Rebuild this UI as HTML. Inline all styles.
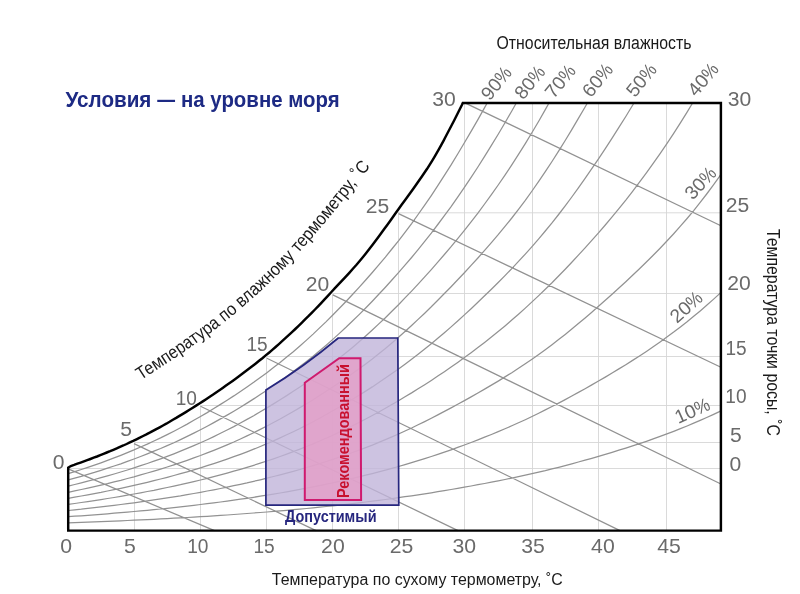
<!DOCTYPE html><html><head><meta charset="utf-8"><title>chart</title><style>html,body{margin:0;padding:0;background:#fff}svg{display:block}</style></head><body><svg width="800" height="594" viewBox="0 0 800 594">
<rect width="800" height="594" fill="#fff"/>
<path d="M134.5,442.6 V530.6 M200.5,405.1 V530.6 M266.5,356.9 V530.6 M332.5,293.3 V530.6 M398.5,211.9 V530.6 M464.5,103.0 V530.6 M532.5,103.0 V530.6 M598.5,103.0 V530.6 M666.5,103.0 V530.6 M68.2,468.5 H720.9 M134.0,442.5 H720.9 M200.5,405.5 H720.9 M266.9,356.5 H720.9 M332.8,293.5 H720.9 M398.5,212.8 H720.9" fill="none" stroke="#d6d6d6" stroke-width="0.9"/>
<path d="M68.2,522.8 L74.7,522.6 L81.3,522.3 L87.8,522.1 L94.4,521.9 L101.0,521.6 L107.5,521.3 L114.1,521.1 L120.8,520.8 L127.4,520.5 L134.0,520.2 L140.6,519.9 L147.3,519.6 L153.9,519.3 L160.6,518.9 L167.2,518.6 L173.9,518.2 L180.5,517.9 L187.2,517.5 L193.8,517.1 L200.5,516.7 L207.2,516.3 L213.8,515.9 L220.5,515.4 L227.1,515.0 L233.8,514.5 L240.4,514.0 L247.0,513.5 L253.7,513.0 L260.3,512.5 L266.9,512.0 L273.5,511.4 L280.1,510.9 L286.7,510.3 L293.3,509.7 L299.9,509.1 L306.5,508.5 L313.1,507.8 L319.6,507.2 L326.2,506.5 L332.8,505.8 L339.4,505.1 L346.0,504.3 L352.5,503.6 L359.1,502.8 L365.7,502.0 L372.3,501.2 L378.8,500.3 L385.4,499.5 L391.9,498.6 L398.5,497.7 L405.0,496.7 L411.6,495.8 L418.1,494.8 L424.7,493.8 L431.3,492.8 L437.8,491.7 L444.4,490.6 L451.1,489.5 L457.7,488.4 L464.4,487.2 L471.1,486.0 L477.9,484.7 L484.6,483.5 L491.4,482.2 L498.2,480.9 L505.0,479.5 L511.8,478.1 L518.5,476.7 L525.3,475.2 L532.0,473.7 L538.7,472.1 L545.3,470.6 L552.0,468.9 L558.6,467.3 L565.2,465.6 L571.8,463.8 L578.4,462.0 L585.1,460.2 L591.8,458.3 L598.5,456.3 L605.3,454.3 L612.1,452.3 L618.9,450.2 L625.8,448.1 L632.6,445.9 L639.5,443.6 L646.4,441.3 L653.2,438.9 L660.1,436.4 L666.9,433.9 L673.7,431.3 L680.4,428.7 L687.1,426.0 L693.7,423.2 L700.2,420.4 L706.7,417.5 L713.1,414.6 L719.4,411.6 L720.9,410.8 M68.2,516.7 L74.7,516.2 L81.3,515.8 L87.8,515.3 L94.4,514.8 L101.0,514.3 L107.5,513.8 L114.1,513.2 L120.8,512.7 L127.4,512.1 L134.0,511.5 L140.6,510.9 L147.3,510.3 L153.9,509.6 L160.6,509.0 L167.2,508.3 L173.9,507.6 L180.5,506.8 L187.2,506.1 L193.8,505.3 L200.5,504.5 L207.2,503.7 L213.8,502.9 L220.5,502.0 L227.1,501.1 L233.8,500.2 L240.4,499.2 L247.0,498.3 L253.7,497.3 L260.3,496.2 L266.9,495.2 L273.5,494.1 L280.1,493.0 L286.7,491.8 L293.3,490.6 L299.9,489.4 L306.5,488.2 L313.1,486.9 L319.6,485.6 L326.2,484.2 L332.8,482.8 L339.4,481.4 L346.0,479.9 L352.5,478.4 L359.1,476.8 L365.7,475.2 L372.3,473.6 L378.8,471.9 L385.4,470.1 L391.9,468.3 L398.5,466.5 L405.0,464.6 L411.6,462.7 L418.1,460.7 L424.7,458.6 L431.3,456.5 L437.8,454.3 L444.4,452.1 L451.1,449.8 L457.7,447.4 L464.4,445.0 L471.1,442.5 L477.9,439.9 L484.6,437.2 L491.4,434.5 L498.2,431.7 L505.0,428.8 L511.8,425.8 L518.5,422.8 L525.3,419.7 L532.0,416.5 L538.7,413.2 L545.3,409.9 L552.0,406.5 L558.6,403.1 L565.2,399.6 L571.8,396.0 L578.4,392.4 L585.1,388.7 L591.8,384.9 L598.5,381.0 L605.3,377.1 L612.1,373.0 L618.9,368.9 L625.8,364.7 L632.6,360.4 L639.5,356.0 L646.4,351.4 L653.2,346.8 L660.1,342.0 L666.9,337.1 L673.7,332.1 L680.4,326.9 L687.1,321.7 L693.7,316.3 L700.2,310.9 L706.7,305.3 L713.1,299.6 L719.4,293.9 L720.9,292.4 M68.2,510.5 L74.7,509.8 L81.3,509.2 L87.8,508.4 L94.4,507.7 L101.0,506.9 L107.5,506.2 L114.1,505.4 L120.8,504.5 L127.4,503.7 L134.0,502.8 L140.6,501.9 L147.3,500.9 L153.9,499.9 L160.6,498.9 L167.2,497.9 L173.9,496.8 L180.5,495.8 L187.2,494.6 L193.8,493.5 L200.5,492.3 L207.2,491.0 L213.8,489.8 L220.5,488.5 L227.1,487.1 L233.8,485.7 L240.4,484.3 L247.0,482.9 L253.7,481.3 L260.3,479.8 L266.9,478.2 L273.5,476.5 L280.1,474.8 L286.7,473.1 L293.3,471.3 L299.9,469.5 L306.5,467.5 L313.1,465.6 L319.6,463.6 L326.2,461.5 L332.8,459.4 L339.4,457.1 L346.0,454.9 L352.5,452.5 L359.1,450.1 L365.7,447.6 L372.3,445.1 L378.8,442.4 L385.4,439.7 L391.9,436.9 L398.5,434.0 L405.0,431.0 L411.6,428.0 L418.1,424.8 L424.7,421.6 L431.3,418.3 L437.8,414.9 L444.4,411.4 L451.1,407.9 L457.7,404.3 L464.4,400.6 L471.1,396.9 L477.9,393.0 L484.6,389.1 L491.4,385.1 L498.2,381.1 L505.0,376.9 L511.8,372.7 L518.5,368.3 L525.3,363.8 L532.0,359.2 L538.7,354.5 L545.3,349.7 L552.0,344.7 L558.6,339.6 L565.2,334.4 L571.8,329.0 L578.4,323.5 L585.1,317.9 L591.8,312.2 L598.5,306.3 L605.3,300.3 L612.1,294.2 L618.9,288.0 L625.8,281.7 L632.6,275.3 L639.5,268.7 L646.4,262.0 L653.2,255.2 L660.1,248.2 L666.9,241.0 L673.7,233.7 L680.4,226.2 L687.1,218.5 L693.7,210.6 L700.2,202.4 L706.7,194.0 L713.1,185.4 L719.4,176.6 L720.9,174.3 M68.2,504.4 L74.7,503.5 L81.3,502.5 L87.8,501.6 L94.4,500.6 L101.0,499.6 L107.5,498.5 L114.1,497.5 L120.8,496.4 L127.4,495.2 L134.0,494.0 L140.6,492.8 L147.3,491.5 L153.9,490.3 L160.6,488.9 L167.2,487.5 L173.9,486.1 L180.5,484.7 L187.2,483.1 L193.8,481.6 L200.5,480.0 L207.2,478.3 L213.8,476.6 L220.5,474.9 L227.1,473.1 L233.8,471.2 L240.4,469.3 L247.0,467.3 L253.7,465.3 L260.3,463.2 L266.9,461.0 L273.5,458.8 L280.1,456.5 L286.7,454.1 L293.3,451.6 L299.9,449.1 L306.5,446.5 L313.1,443.8 L319.6,441.0 L326.2,438.2 L332.8,435.2 L339.4,432.1 L346.0,429.0 L352.5,425.8 L359.1,422.4 L365.7,419.0 L372.3,415.5 L378.8,412.0 L385.4,408.3 L391.9,404.5 L398.5,400.7 L405.0,396.8 L411.6,392.9 L418.1,388.8 L424.7,384.7 L431.3,380.4 L437.8,376.1 L444.4,371.7 L451.1,367.1 L457.7,362.4 L464.4,357.6 L471.1,352.7 L477.9,347.6 L484.6,342.4 L491.4,337.0 L498.2,331.5 L505.0,325.9 L511.8,320.1 L518.5,314.2 L525.3,308.1 L532.0,301.9 L538.7,295.6 L545.3,289.2 L552.0,282.7 L558.6,276.0 L565.2,269.2 L571.8,262.2 L578.4,255.1 L585.1,247.9 L591.8,240.4 L598.5,232.8 L605.3,225.0 L612.1,216.9 L618.9,208.6 L625.8,200.1 L632.6,191.3 L639.5,182.2 L646.4,172.9 L653.2,163.4 L660.1,153.6 L666.9,143.6 L673.7,133.3 L680.4,122.8 L687.1,112.1 L692.6,103.0 M68.2,498.3 L74.7,497.2 L81.3,496.0 L87.8,494.8 L94.4,493.6 L101.0,492.4 L107.5,491.0 L114.1,489.7 L120.8,488.3 L127.4,486.9 L134.0,485.4 L140.6,483.9 L147.3,482.3 L153.9,480.7 L160.6,479.0 L167.2,477.3 L173.9,475.5 L180.5,473.7 L187.2,471.8 L193.8,469.8 L200.5,467.8 L207.2,465.7 L213.8,463.6 L220.5,461.4 L227.1,459.1 L233.8,456.7 L240.4,454.3 L247.0,451.8 L253.7,449.2 L260.3,446.5 L266.9,443.7 L273.5,440.9 L280.1,437.9 L286.7,434.8 L293.3,431.7 L299.9,428.5 L306.5,425.1 L313.1,421.7 L319.6,418.2 L326.2,414.5 L332.8,410.8 L339.4,407.0 L346.0,403.2 L352.5,399.2 L359.1,395.2 L365.7,391.1 L372.3,386.9 L378.8,382.5 L385.4,378.1 L391.9,373.6 L398.5,369.0 L405.0,364.2 L411.6,359.3 L418.1,354.3 L424.7,349.1 L431.3,343.8 L437.8,338.3 L444.4,332.7 L451.1,326.9 L457.7,321.0 L464.4,314.9 L471.1,308.7 L477.9,302.3 L484.6,295.8 L491.4,289.2 L498.2,282.5 L505.0,275.6 L511.8,268.6 L518.5,261.4 L525.3,254.1 L532.0,246.6 L538.7,238.9 L545.3,231.0 L552.0,222.9 L558.6,214.5 L565.2,205.9 L571.8,197.0 L578.4,187.8 L585.1,178.4 L591.8,168.7 L598.5,158.8 L605.3,148.6 L612.1,138.1 L618.9,127.4 L625.8,116.5 L632.6,105.3 L634.0,103.0 M68.2,492.3 L74.7,490.9 L81.3,489.5 L87.8,488.1 L94.4,486.6 L101.0,485.1 L107.5,483.6 L114.1,481.9 L120.8,480.3 L127.4,478.5 L134.0,476.8 L140.6,474.9 L147.3,473.0 L153.9,471.1 L160.6,469.1 L167.2,467.0 L173.9,464.8 L180.5,462.6 L187.2,460.3 L193.8,457.9 L200.5,455.5 L207.2,452.9 L213.8,450.3 L220.5,447.6 L227.1,444.8 L233.8,442.0 L240.4,439.0 L247.0,435.9 L253.7,432.7 L260.3,429.4 L266.9,426.0 L273.5,422.5 L280.1,419.0 L286.7,415.3 L293.3,411.5 L299.9,407.6 L306.5,403.7 L313.1,399.7 L319.6,395.5 L326.2,391.3 L332.8,387.0 L339.4,382.6 L346.0,378.1 L352.5,373.5 L359.1,368.8 L365.7,363.9 L372.3,358.9 L378.8,353.7 L385.4,348.4 L391.9,342.9 L398.5,337.3 L405.0,331.5 L411.6,325.5 L418.1,319.4 L424.7,313.2 L431.3,306.8 L437.8,300.2 L444.4,293.5 L451.1,286.7 L457.7,279.8 L464.4,272.7 L471.1,265.4 L477.9,258.0 L484.6,250.4 L491.4,242.6 L498.2,234.7 L505.0,226.4 L511.8,218.0 L518.5,209.3 L525.3,200.3 L532.0,191.0 L538.7,181.4 L545.3,171.6 L552.0,161.5 L558.6,151.1 L565.2,140.5 L571.8,129.6 L578.4,118.4 L585.1,107.0 L587.4,103.0 M68.2,486.1 L74.7,484.5 L81.3,482.9 L87.8,481.2 L94.4,479.5 L101.0,477.7 L107.5,475.9 L114.1,474.0 L120.8,472.0 L127.4,470.0 L134.0,467.9 L140.6,465.7 L147.3,463.5 L153.9,461.2 L160.6,458.8 L167.2,456.3 L173.9,453.8 L180.5,451.2 L187.2,448.4 L193.8,445.6 L200.5,442.7 L207.2,439.7 L213.8,436.6 L220.5,433.3 L227.1,430.0 L233.8,426.6 L240.4,423.0 L247.0,419.4 L253.7,415.7 L260.3,411.8 L266.9,407.9 L273.5,403.9 L280.1,399.8 L286.7,395.6 L293.3,391.3 L299.9,386.9 L306.5,382.4 L313.1,377.8 L319.6,373.1 L326.2,368.2 L332.8,363.3 L339.4,358.1 L346.0,352.8 L352.5,347.4 L359.1,341.8 L365.7,336.0 L372.3,330.0 L378.8,323.9 L385.4,317.7 L391.9,311.2 L398.5,304.7 L405.0,297.9 L411.6,291.1 L418.1,284.1 L424.7,276.9 L431.3,269.6 L437.8,262.2 L444.4,254.5 L451.1,246.7 L457.7,238.6 L464.4,230.4 L471.1,221.9 L477.9,213.1 L484.6,204.0 L491.4,194.7 L498.2,185.0 L505.0,175.1 L511.8,164.9 L518.5,154.4 L525.3,143.6 L532.0,132.5 L538.7,121.2 L545.3,109.6 L549.0,103.0 M68.2,479.9 L74.7,478.1 L81.3,476.3 L87.8,474.3 L94.4,472.4 L101.0,470.3 L107.5,468.2 L114.1,466.0 L120.8,463.8 L127.4,461.4 L134.0,459.0 L140.6,456.5 L147.3,453.9 L153.9,451.2 L160.6,448.5 L167.2,445.6 L173.9,442.7 L180.5,439.6 L187.2,436.4 L193.8,433.1 L200.5,429.7 L207.2,426.2 L213.8,422.6 L220.5,418.9 L227.1,415.1 L233.8,411.2 L240.4,407.2 L247.0,403.1 L253.7,398.9 L260.3,394.6 L266.9,390.2 L273.5,385.7 L280.1,381.1 L286.7,376.4 L293.3,371.6 L299.9,366.6 L306.5,361.5 L313.1,356.2 L319.6,350.8 L326.2,345.2 L332.8,339.4 L339.4,333.4 L346.0,327.3 L352.5,321.0 L359.1,314.6 L365.7,308.0 L372.3,301.2 L378.8,294.3 L385.4,287.2 L391.9,280.0 L398.5,272.7 L405.0,265.2 L411.6,257.5 L418.1,249.6 L424.7,241.4 L431.3,233.1 L437.8,224.5 L444.4,215.7 L451.1,206.6 L457.7,197.1 L464.4,187.4 L471.1,177.3 L477.9,167.0 L484.6,156.4 L491.4,145.4 L498.2,134.2 L505.0,122.7 L511.8,111.0 L516.3,103.0 M68.2,473.6 L74.7,471.6 L81.3,469.5 L87.8,467.3 L94.4,465.1 L101.0,462.8 L107.5,460.4 L114.1,457.9 L120.8,455.3 L127.4,452.6 L134.0,449.9 L140.6,447.0 L147.3,444.1 L153.9,441.0 L160.6,437.9 L167.2,434.6 L173.9,431.2 L180.5,427.7 L187.2,424.1 L193.8,420.3 L200.5,416.5 L207.2,412.6 L213.8,408.5 L220.5,404.4 L227.1,400.2 L233.8,395.9 L240.4,391.4 L247.0,386.9 L253.7,382.3 L260.3,377.5 L266.9,372.7 L273.5,367.6 L280.1,362.5 L286.7,357.1 L293.3,351.7 L299.9,346.0 L306.5,340.1 L313.1,334.1 L319.6,327.9 L326.2,321.6 L332.8,315.0 L339.4,308.3 L346.0,301.5 L352.5,294.5 L359.1,287.3 L365.7,280.0 L372.3,272.5 L378.8,264.9 L385.4,257.1 L391.9,249.0 L398.5,240.8 L405.0,232.3 L411.6,223.6 L418.1,214.5 L424.7,205.2 L431.3,195.6 L437.8,185.7 L444.4,175.4 L451.1,164.9 L457.7,154.0 L464.4,142.8 L471.1,131.4 L477.9,119.6 L484.6,107.6 L487.2,103.0 M68.2,468.9 L214.5,530.6 M134.0,443.6 L316.0,530.6 M200.5,406.3 L458.0,530.6 M266.9,358.2 L620.0,530.6 M332.8,294.9 L720.9,484.0 M398.5,213.6 L720.9,367.3 M464.4,102.6 L720.9,225.8" fill="none" stroke="#929292" stroke-width="1.25"/>
<path d="M265.9,390.1 Q303.6,367.1 338.3,338 H397.8 L398.8,505.2 H265.9 Z" fill="#c0b4d9" fill-opacity="0.8" stroke="#26267e" stroke-width="1.7"/>
<path d="M304.8,382.7 L339.2,358.2 H360.5 L361.1,500.1 H304.8 Z" fill="#e59ec7" fill-opacity="0.8" stroke="#cf1a6e" stroke-width="2"/>
<path d="M720.9,103.0 V530.6 H68.2 V467.6 L70.8,466.0 L74.1,464.9 L77.4,463.7 L80.6,462.6 L83.9,461.4 L87.2,460.2 L90.4,459.0 L93.7,457.7 L97.0,456.5 L100.3,455.2 L103.5,453.9 L106.8,452.5 L110.1,451.2 L113.4,449.8 L116.7,448.4 L120.0,446.9 L123.3,445.5 L126.6,444.0 L129.9,442.4 L133.2,440.9 L136.5,439.3 L139.8,437.7 L143.1,436.0 L146.4,434.4 L149.7,432.7 L153.0,430.9 L156.3,429.1 L159.7,427.3 L163.0,425.5 L166.3,423.7 L169.6,421.8 L172.9,419.8 L176.2,417.9 L179.5,415.9 L182.9,413.9 L186.2,411.9 L189.5,409.8 L192.8,407.7 L196.1,405.6 L199.5,403.5 L202.8,401.4 L206.1,399.2 L209.4,397.0 L212.8,394.8 L216.1,392.5 L219.4,390.3 L222.7,388.0 L226.0,385.6 L229.3,383.3 L232.6,380.9 L236.0,378.5 L239.3,376.1 L242.6,373.6 L245.9,371.1 L249.2,368.6 L252.5,366.1 L255.8,363.5 L259.1,360.8 L262.4,358.2 L265.7,355.4 L269.0,352.7 L272.3,349.9 L275.6,347.0 L278.9,344.1 L282.1,341.2 L285.4,338.2 L288.7,335.2 L292.0,332.1 L295.3,329.0 L298.6,325.9 L301.9,322.7 L305.1,319.4 L308.4,316.2 L311.7,312.8 L315.0,309.5 L318.3,306.1 L321.6,302.6 L324.8,299.1 L328.1,295.6 L331.4,292.0 L334.7,288.4 L338.0,284.8 L341.8,280.8 L345.6,276.8 L349.3,272.8 L352.9,268.8 L356.5,264.8 L359.9,260.8 L363.2,256.8 L366.4,252.8 L369.5,248.8 L372.6,244.8 L375.6,240.8 L378.6,236.8 L381.5,232.8 L384.4,228.8 L387.4,224.8 L390.3,220.8 L393.1,216.8 L395.9,212.8 L398.8,208.8 L401.6,204.8 L404.6,200.8 L407.5,196.8 L410.4,192.8 L413.3,188.8 L416.1,184.8 L418.9,180.8 L421.7,176.8 L424.4,172.8 L427.1,168.8 L429.6,164.8 L432.1,160.8 L434.5,156.8 L436.8,152.8 L439.1,148.8 L441.3,144.8 L443.5,140.8 L445.6,136.8 L447.7,132.8 L449.8,128.8 L451.9,124.8 L454.0,120.8 L456.0,116.8 L458.0,112.8 L460.0,108.8 L462.0,104.8 L462.8,103.0 Z" fill="none" stroke="#000" stroke-width="2.45" stroke-linejoin="miter"/>
<g font-family="'Liberation Sans', Arial, sans-serif">
<text x="65.6" y="106.8" font-size="21.8" fill="#1d2a84" textLength="85.8" lengthAdjust="spacingAndGlyphs" font-weight="bold">Условия</text>
<text x="157.3" y="106.8" font-size="21.8" fill="#1d2a84" textLength="17.8" lengthAdjust="spacingAndGlyphs" font-weight="bold">—</text>
<text x="181.0" y="106.8" font-size="21.8" fill="#1d2a84" textLength="158.6" lengthAdjust="spacingAndGlyphs" font-weight="bold">на уровне моря</text>
<text x="496.5" y="49.0" font-size="18.0" fill="#1a1a1a" textLength="195.0" lengthAdjust="spacingAndGlyphs" >Относительная влажность</text>
<text x="271.8" y="585.2" font-size="17.3" fill="#1a1a1a" textLength="291.0" lengthAdjust="spacingAndGlyphs" >Температура по сухому термометру, ˚C</text>
<text transform="translate(66.2,552.6) scale(1.03,1)" font-size="20.6" fill="#6a6a6a" text-anchor="middle">0</text>
<text transform="translate(129.9,552.6) scale(1.03,1)" font-size="20.6" fill="#6a6a6a" text-anchor="middle">5</text>
<text transform="translate(197.8,552.6) scale(0.93,1)" font-size="20.6" fill="#6a6a6a" text-anchor="middle">10</text>
<text transform="translate(264.1,552.6) scale(0.93,1)" font-size="20.6" fill="#6a6a6a" text-anchor="middle">15</text>
<text transform="translate(332.9,552.6) scale(1.03,1)" font-size="20.6" fill="#6a6a6a" text-anchor="middle">20</text>
<text transform="translate(401.5,552.6) scale(1.03,1)" font-size="20.6" fill="#6a6a6a" text-anchor="middle">25</text>
<text transform="translate(464.2,552.6) scale(1.03,1)" font-size="20.6" fill="#6a6a6a" text-anchor="middle">30</text>
<text transform="translate(533.0,552.6) scale(1.03,1)" font-size="20.6" fill="#6a6a6a" text-anchor="middle">35</text>
<text transform="translate(602.9,552.6) scale(1.03,1)" font-size="20.6" fill="#6a6a6a" text-anchor="middle">40</text>
<text transform="translate(669.0,552.6) scale(1.03,1)" font-size="20.6" fill="#6a6a6a" text-anchor="middle">45</text>
<text transform="translate(58.5,469.1) scale(1.03,1)" font-size="20.5" fill="#6a6a6a" text-anchor="middle">0</text>
<text transform="translate(126.1,436.3) scale(1.03,1)" font-size="20.5" fill="#6a6a6a" text-anchor="middle">5</text>
<text transform="translate(186.3,404.7) scale(0.93,1)" font-size="20.5" fill="#6a6a6a" text-anchor="middle">10</text>
<text transform="translate(257.1,351.4) scale(0.93,1)" font-size="20.5" fill="#6a6a6a" text-anchor="middle">15</text>
<text transform="translate(317.4,291.2) scale(1.03,1)" font-size="20.5" fill="#6a6a6a" text-anchor="middle">20</text>
<text transform="translate(377.4,213.4) scale(1.03,1)" font-size="20.5" fill="#6a6a6a" text-anchor="middle">25</text>
<text transform="translate(444.1,105.5) scale(1.03,1)" font-size="20.5" fill="#6a6a6a" text-anchor="middle">30</text>
<text transform="translate(739.5,105.5) scale(1.03,1)" font-size="20.5" fill="#6a6a6a" text-anchor="middle">30</text>
<text transform="translate(737.6,212.3) scale(1.03,1)" font-size="20.5" fill="#6a6a6a" text-anchor="middle">25</text>
<text transform="translate(739.1,290.4) scale(1.03,1)" font-size="20.5" fill="#6a6a6a" text-anchor="middle">20</text>
<text transform="translate(736.1,355.2) scale(0.93,1)" font-size="20.5" fill="#6a6a6a" text-anchor="middle">15</text>
<text transform="translate(735.9,403.4) scale(0.93,1)" font-size="20.5" fill="#6a6a6a" text-anchor="middle">10</text>
<text transform="translate(735.9,442.2) scale(1.03,1)" font-size="20.5" fill="#6a6a6a" text-anchor="middle">5</text>
<text transform="translate(735.4,471.3) scale(1.03,1)" font-size="20.5" fill="#6a6a6a" text-anchor="middle">0</text>
<text transform="translate(767.3,228.9) rotate(90)" font-size="18.2" fill="#1a1a1a" textLength="207" lengthAdjust="spacingAndGlyphs">Температура точки росы, ˚C</text>
<text transform="translate(489.8,101.4) rotate(-51.0) scale(1.01,1)" font-size="19.0" fill="#6a6a6a">90<tspan textLength="14.9" lengthAdjust="spacingAndGlyphs">%</tspan></text>
<text transform="translate(523.3,100.5) rotate(-51.0) scale(1.01,1)" font-size="19.0" fill="#6a6a6a">80<tspan textLength="14.9" lengthAdjust="spacingAndGlyphs">%</tspan></text>
<text transform="translate(553.8,99.5) rotate(-51.0) scale(1.01,1)" font-size="19.0" fill="#6a6a6a">70<tspan textLength="14.9" lengthAdjust="spacingAndGlyphs">%</tspan></text>
<text transform="translate(591.0,98.4) rotate(-51.0) scale(1.01,1)" font-size="19.0" fill="#6a6a6a">60<tspan textLength="14.9" lengthAdjust="spacingAndGlyphs">%</tspan></text>
<text transform="translate(634.9,98.3) rotate(-51.0) scale(1.01,1)" font-size="19.0" fill="#6a6a6a">50<tspan textLength="14.9" lengthAdjust="spacingAndGlyphs">%</tspan></text>
<text transform="translate(696.3,97.5) rotate(-50.0) scale(1.01,1)" font-size="19.0" fill="#6a6a6a">40<tspan textLength="14.9" lengthAdjust="spacingAndGlyphs">%</tspan></text>
<text transform="translate(692.8,200.8) rotate(-47.0) scale(1.01,1)" font-size="19.0" fill="#6a6a6a">30<tspan textLength="14.9" lengthAdjust="spacingAndGlyphs">%</tspan></text>
<text transform="translate(677.0,324.0) rotate(-42.0) scale(1.01,1)" font-size="19.0" fill="#6a6a6a">20<tspan textLength="14.9" lengthAdjust="spacingAndGlyphs">%</tspan></text>
<text transform="translate(678.3,424.0) rotate(-24.0) scale(1.01,1)" font-size="19.0" fill="#6a6a6a">10<tspan textLength="14.9" lengthAdjust="spacingAndGlyphs">%</tspan></text>
<path id="wbp" d="M140.7,380.3 L144.7,377.7 L148.6,375.1 L152.6,372.6 L156.6,370.0 L160.6,367.4 L164.5,364.8 L168.5,362.2 L172.5,359.6 L176.4,357.0 L180.4,354.3 L184.4,351.6 L188.4,348.9 L192.3,346.1 L196.3,343.3 L200.3,340.5 L204.2,337.6 L208.2,334.7 L212.2,331.7 L216.2,328.6 L220.1,325.6 L224.1,322.4 L228.1,319.2 L232.0,316.0 L236.0,312.7 L240.0,309.3 L244.0,305.9 L247.9,302.5 L251.9,299.0 L255.9,295.4 L259.8,291.8 L263.8,288.1 L267.8,284.4 L271.7,280.6 L275.7,276.8 L279.7,272.8 L283.7,268.8 L287.6,264.7 L291.6,260.5 L295.6,256.2 L299.5,251.9 L303.5,247.5 L307.5,243.0 L311.5,238.4 L315.4,233.8 L319.4,229.1 L323.4,224.4 L327.3,219.7 L331.3,214.9 L335.3,210.0 L339.3,205.2 L343.2,200.3 L347.2,195.4 L351.2,190.5 L355.1,185.6 L359.1,180.6 L363.1,175.7 L367.1,170.8 L371.0,165.9 L375.0,161.0" fill="none"/>
<text font-size="18" fill="#1a1a1a"><textPath href="#wbp" startOffset="0" textLength="316" lengthAdjust="spacingAndGlyphs">Температура по влажному термометру, ˚C</textPath></text>
<text x="285" y="521.7" font-size="16.5" font-weight="bold" fill="#26267e" textLength="91.5" lengthAdjust="spacingAndGlyphs">Допустимый</text>
<text transform="translate(348.6,498) rotate(-90)" font-size="16.2" font-weight="bold" fill="#c8102f" textLength="134" lengthAdjust="spacingAndGlyphs">Рекомендованный</text>
</g>
</svg></body></html>
